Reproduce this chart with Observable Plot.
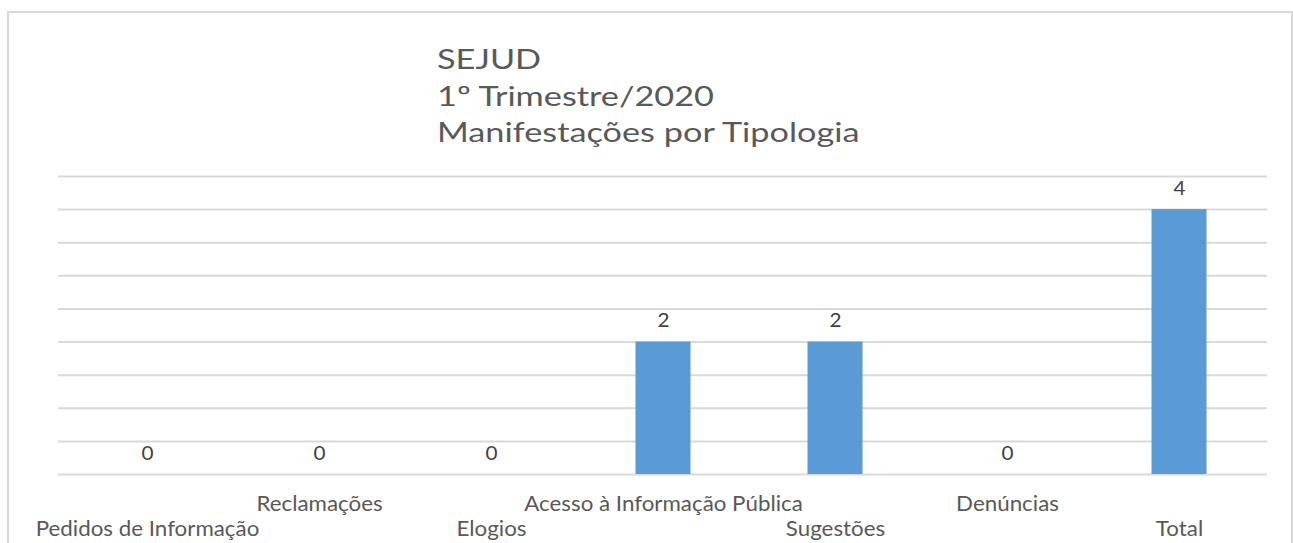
<!DOCTYPE html>
<html>
<head>
<meta charset="utf-8">
<script src="https://cdn.jsdelivr.net/npm/d3@7"></script>
<script src="https://cdn.jsdelivr.net/npm/@observablehq/plot@0.6"></script>
<style>
  html, body { margin: 0; padding: 0; background: #fff; }
  #wrap { position: relative; width: 1293px; height: 543px; overflow: hidden; font-family: Lato, "Open Sans", sans-serif; }
  #box { position: absolute; left: 7px; top: 11px; width: 1286px; height: 600px; border: 2px solid #d9d9d9; box-sizing: border-box; }
  #title { position: absolute; left: 437px; top: 41px; font-size: 27px; line-height: 36.7px; color: #595959; white-space: pre; transform: scaleX(1.27); transform-origin: 0 0; }
  #chart { position: absolute; left: 0; top: 0; }
</style>
</head>
<body>
<div id="wrap">
  <div id="box"></div>
  <div id="chart"></div>
  <div id="title">SEJUD
1º Trimestre/2020
Manifestações por Tipologia</div>
</div>
<script>
const categories = ["Pedidos de Informação", "Reclamações", "Elogios", "Acesso à Informação Pública", "Sugestões", "Denúncias", "Total"];
const values = [0, 0, 0, 2, 2, 0, 4];
const gridTicks = [0, 0.5, 1, 1.5, 2, 2.5, 3, 3.5, 4, 4.5];

const data = categories.map((c, i) => ({category: c, value: values[i], index: i}));

const chart = Plot.plot({
  width: 1293,
  height: 543,
  marginLeft: 58,
  marginRight: 26,
  marginTop: 176,
  marginBottom: 69,
  style: {fontFamily: "Lato, 'Open Sans', sans-serif", background: "transparent", overflow: "visible"},
  x: {domain: categories, padding: 0, axis: null},
  y: {domain: [0, 4.5], axis: null},
  marks: [
    Plot.ruleY(gridTicks, {stroke: "#d9d9d9", strokeWidth: 2}),
    Plot.barY(data, {x: "category", y: "value", fill: "#5b9bd5", insetLeft: 58.5, insetRight: 58.5}),
    Plot.text(data, {x: "category", y: "value", text: d => String(d.value), lineAnchor: "bottom", dy: -15, fontSize: 19, fill: "#404040"}),
    Plot.text(data.filter(d => d.index % 2 === 1), {x: "category", y: 0, text: "category", lineAnchor: "bottom", dy: 36, fontSize: 20.5, fill: "#595959"}),
    Plot.text(data.filter(d => d.index % 2 === 0), {x: "category", y: 0, text: "category", lineAnchor: "bottom", dy: 61, fontSize: 20.5, fill: "#595959"})
  ]
});
// widen glyphs horizontally about each label's anchor, as in the reference
chart.querySelectorAll('g[aria-label="text"] text').forEach(t => {
  const tr = t.getAttribute("transform") || "";
  t.setAttribute("transform", tr + " scale(1.09,1)");
});
document.getElementById("chart").appendChild(chart);
</script>
</body>
</html>
